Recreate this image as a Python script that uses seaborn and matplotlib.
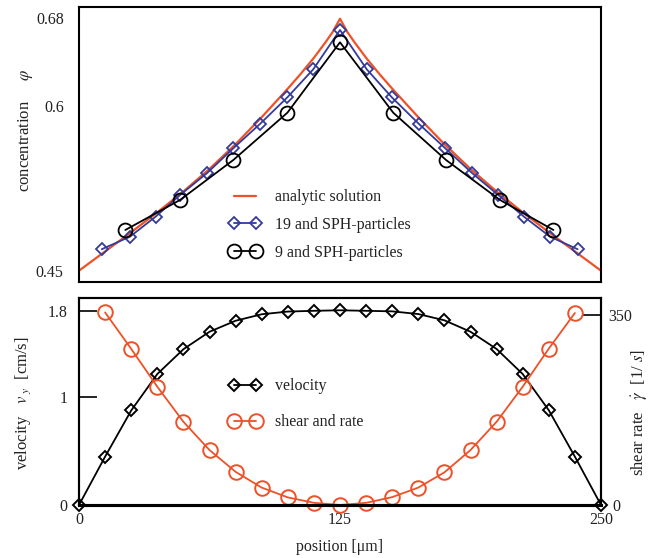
import numpy as np
import pandas as pd
import matplotlib
matplotlib.use("Agg")
import matplotlib.pyplot as plt
import matplotlib.transforms as mtransforms
import seaborn as sns

# ---------------- data ----------------
# top panel: concentration profile
analytic_x = [0, 12.5, 25, 37.5, 50, 62.5, 75, 87.5, 100, 106, 112.5, 118, 121.5, 125,
              128.5, 132, 137.5, 144, 150, 162.5, 175, 187.5, 200, 212.5, 225, 237.5, 250]
analytic_phi = [0.450, 0.4675, 0.485, 0.503, 0.522, 0.5425, 0.565, 0.5895, 0.6155, 0.6285,
                0.6435, 0.6575, 0.667, 0.679,
                0.667, 0.6575, 0.6435, 0.6285, 0.6155, 0.5895, 0.565, 0.5425, 0.522, 0.503,
                0.485, 0.4675, 0.450]

sph19_x = [10.9, 24.4, 36.7, 48.4, 61.2, 73.9, 86.7, 99.8, 112.2, 125,
           137.8, 149.8, 162.8, 175.4, 188.4, 200.8, 213.1, 225.6, 238.8]
sph19_phi = [0.4695, 0.4809, 0.4991, 0.5188, 0.5385, 0.5613, 0.5834, 0.6076, 0.6331, 0.6688,
             0.6331, 0.6076, 0.5834, 0.5613, 0.5385, 0.5188, 0.4991, 0.4809, 0.4695]

sph9_x = [22.2, 48.4, 73.9, 99.8, 125, 150.5, 175.8, 201.6, 227.2]
sph9_phi = [0.487, 0.5143, 0.5506, 0.5936, 0.6576, 0.5936, 0.5506, 0.5143, 0.487]

# bottom panel: velocity and shear rate
vel_x = [0, 12.5, 25, 37.5, 50, 62.5, 75, 87.5, 100, 112.5, 125,
         137.5, 150, 162.5, 175, 187.5, 200, 212.5, 225, 237.5, 250]
vel_v = [0, 0.448, 0.876, 1.214, 1.444, 1.606, 1.708, 1.768, 1.793, 1.800, 1.805,
         1.800, 1.795, 1.770, 1.712, 1.606, 1.446, 1.214, 0.878, 0.448, 0]

shear_x = [12.5, 25, 37.5, 50, 62.5, 75, 87.5, 100, 112.5, 125,
           137.5, 150, 162.5, 175, 187.5, 200, 212.5, 225, 237.5]
shear_rate = [354, 287, 217.5, 153, 101, 61, 32, 14, 4, 0,
              4, 14.5, 32, 60, 101, 153, 217.5, 287.5, 353]

top_yticks = [0.45, 0.6, 0.68]
top_ytick_labels = ["0.45", "0.6", "0.68"]
vel_ticks = [0, 1, 1.8]
vel_tick_labels = ["0", "1", "1.8"]
shear_ticks = [0, 350]
x_ticks = [0, 125, 250]

# ---------------- style ----------------
sns.set_theme(style="white")
plt.rcParams["font.family"] = ["Liberation Serif", "DejaVu Serif"]
plt.rcParams["mathtext.fontset"] = "stix"

RED = "#ee5128"
BLUE = "#343b98"
TXT = "#222222"
TICK_FS = 11.5
LAB_FS = 12
LEG_FS = 11.5

fig = plt.figure(figsize=(6.53, 5.58), dpi=100)
ax1 = fig.add_axes([79/653, 1-282/558, 522/653, 275/558])
ax2 = fig.add_axes([79/653, 1-505/558, 522/653, 206.7/558])
ax3 = ax2.twinx()

df_an = pd.DataFrame({"x": analytic_x, "y": analytic_phi})
df_19 = pd.DataFrame({"x": sph19_x, "y": sph19_phi})
df_9 = pd.DataFrame({"x": sph9_x, "y": sph9_phi})
df_v = pd.DataFrame({"x": vel_x, "y": vel_v})
df_s = pd.DataFrame({"x": shear_x, "y": shear_rate})

sns.lineplot(data=df_an, x="x", y="y", ax=ax1, color=RED, lw=1.6, sort=False,
             label="analytic solution")
sns.lineplot(data=df_19, x="x", y="y", ax=ax1, color=BLUE, lw=1.3, sort=False,
             marker="D", markersize=6.5, markerfacecolor="none", markeredgecolor=BLUE,
             markeredgewidth=1.3, label="19 and SPH-particles")
sns.lineplot(data=df_9, x="x", y="y", ax=ax1, color="black", lw=1.3, sort=False,
             marker="o", markersize=10, markerfacecolor="none", markeredgecolor="black",
             markeredgewidth=1.3, label="9 and SPH-particles")

sns.lineplot(data=df_v, x="x", y="y", ax=ax2, color="black", lw=1.3, sort=False,
             marker="D", markersize=6.5, markerfacecolor="none", markeredgecolor="black",
             markeredgewidth=1.4, label="velocity", clip_on=False)
sns.lineplot(data=df_s, x="x", y="y", ax=ax3, color=RED, lw=1.3, sort=False,
             marker="o", markersize=10.5, markerfacecolor="none", markeredgecolor=RED,
             markeredgewidth=1.4, label="shear and rate", clip_on=False)

# ---------------- axes ----------------
ax1.set_xlim(0, 250)
ax1.set_ylim(0.4397, 0.6897)
ax1.set_yticks(top_yticks)
ax1.set_yticklabels(top_ytick_labels)
ax1.set_xticks([125])
ax1.set_xticklabels([])
ax1.tick_params(axis="y", direction="in", length=13, width=1.2, color="black",
                labelsize=TICK_FS, labelcolor=TXT, pad=11)
ax1.tick_params(axis="x", direction="in", length=6, width=1.0, color="#888888")
ax1.set_xlabel("")
ax1.set_ylabel(r"concentration     $\varphi$", fontsize=LAB_FS, color=TXT)
ax1.yaxis.set_label_coords(-0.085, 0.55)

ax2.set_xlim(0, 250)
ax2.set_ylim(0, 1.916)
ax2.set_yticks(vel_ticks)
ax2.set_yticklabels(vel_tick_labels)
ax2.set_xticks(x_ticks)
ax2.set_xticklabels([str(t) for t in x_ticks])
ax2.tick_params(axis="y", direction="in", length=13, width=1.2, color="black",
                labelsize=TICK_FS, labelcolor=TXT, pad=8.5)
ax2.tick_params(axis="x", direction="in", length=13, width=1.2, color="black",
                labelsize=TICK_FS, labelcolor=TXT, pad=5)
ax2.set_xlabel("position [μm]", fontsize=11.5, color=TXT)
ax2.xaxis.set_label_coords(0.5, -0.165)
ax2.set_ylabel(r"velocity   $v_{\ y}$  [cm/s]", fontsize=LAB_FS, color=TXT)
ax2.yaxis.set_label_coords(-0.089, 0.493)

ax3.set_ylim(0, 380)
ax3.set_yticks(shear_ticks)
ax3.set_yticklabels([str(t) for t in shear_ticks])
ax3.tick_params(axis="y", direction="in", length=13, width=1.2, color="black",
                labelsize=TICK_FS, labelcolor=TXT, pad=5)
ax3.set_ylabel(r"shear rate   $\dot{\gamma}$  [1/ $s$]", fontsize=LAB_FS, color=TXT)
ax3.yaxis.set_label_coords(1.054, 0.45)
ax3.set_xlabel("")

# nudge the right-hand "0" label slightly right so it clears "250"
zero_lbl = ax3.yaxis.get_major_ticks()[0].label2
zero_lbl.set_transform(zero_lbl.get_transform() +
                       mtransforms.ScaledTranslation(4/100, 0, fig.dpi_scale_trans))

for ax in (ax1, ax2, ax3):
    for sp in ax.spines.values():
        sp.set_color("black")
        sp.set_linewidth(1.5)
    ax.grid(False)
ax2.spines["bottom"].set_linewidth(2.2)
ax3.spines["bottom"].set_linewidth(2.2)

# ---------------- legends ----------------
h1, l1 = ax1.get_legend_handles_labels()
ax1.legend(h1, l1, loc="center", bbox_to_anchor=(0.462, 0.207), frameon=False,
           numpoints=2, handlelength=2.0, handletextpad=0.9, labelspacing=0.75,
           fontsize=LEG_FS, labelcolor=TXT)

if ax2.get_legend():
    ax2.get_legend().remove()
h2, l2 = ax2.get_legend_handles_labels()
h3, l3 = ax3.get_legend_handles_labels()
if ax3.get_legend():
    ax3.get_legend().remove()
ax3.legend(h2 + h3, l2 + l3, loc="center", bbox_to_anchor=(0.416, 0.487), frameon=False,
           numpoints=2, handlelength=2.0, handletextpad=0.9, labelspacing=1.25,
           fontsize=LEG_FS, labelcolor=TXT)

fig.savefig("out.png", dpi=100)
